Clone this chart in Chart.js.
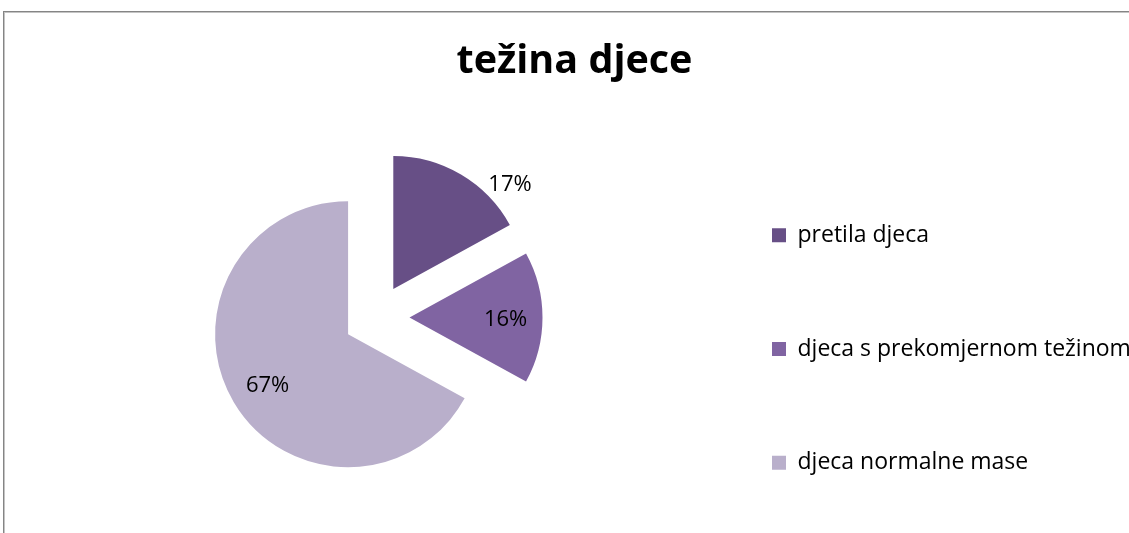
<!DOCTYPE html>
<html>
<head>
<meta charset="utf-8">
<script src="https://cdn.jsdelivr.net/npm/chart.js@4.4.1/dist/chart.umd.min.js"></script>
<style>
  html, body { margin: 0; padding: 0; background: #ffffff; overflow: hidden; width: 1129px; height: 533px; }
  #frame { position: absolute; left: 3px; top: 11px; width: 1200px; height: 600px;
           border-left: 1px solid #858585; border-top: 1px solid #858585;
           box-shadow: inset 1px 1px 0 #c4c4c4; }
  #c { position: absolute; left: 0; top: 0; }
</style>
</head>
<body>
<div id="frame"></div>
<canvas id="c"></canvas>
<script>
// ---- data ----
const chartTitle = 'težina djece';
const categories = ['pretila djeca', 'djeca s prekomjernom težinom', 'djeca normalne mase'];
const values = [17, 16, 67];
const sliceColors = ['#674F86', '#8064A2', '#B9AFCB'];

// ---- styling / layout constants ----
const FONT = '"Open Sans", "Noto Sans", sans-serif';
const legendFontSize = 23;
const labelFontSize = 22;
const titleFontSize = 39.5;
const legendBox = 14;
const explodeDist = 33;
const labelAngleShift = [17.7, 1.5, -1.9];   // degrees relative to slice bisector
const labelRadiusFactor = [1.175, 0.723, 0.718];

// legend geometry derived from measured text width
const mctx = document.createElement('canvas').getContext('2d');
mctx.font = legendFontSize + 'px ' + FONT;
const longest = Math.max(...categories.map(c => mctx.measureText(c).width));
const itemW = legendBox + legendFontSize / 2 + longest;
const legendPad = 386 - itemW;
const legendRight = 782 + itemW;
const canvasW = Math.ceil(legendRight);
const canvasH = 565;
const padLeft = 1149 - legendRight;
const padRight = canvasW - legendRight;
const itemStep = 113.75;

const canvas = document.getElementById('c');
canvas.width = canvasW; canvas.height = canvasH;
canvas.style.width = canvasW + 'px'; canvas.style.height = canvasH + 'px';

const explodePlugin = {
  id: 'explodePie',
  beforeDatasetDraw(chart, args) {
    const ctx = chart.ctx;
    args.meta.data.forEach((arc) => {
      const mid = (arc.startAngle + arc.endAngle) / 2;
      ctx.save();
      ctx.translate(Math.cos(mid) * explodeDist, Math.sin(mid) * explodeDist);
      arc.draw(ctx);
      ctx.restore();
    });
    return false;
  }
};

const pctLabelPlugin = {
  id: 'pctLabels',
  afterDatasetsDraw(chart) {
    const ctx = chart.ctx;
    const meta = chart.getDatasetMeta(0);
    const ds = chart.data.datasets[0].data;
    const total = ds.reduce((a, b) => a + b, 0);
    ctx.save();
    ctx.font = labelFontSize + 'px ' + FONT;
    ctx.fillStyle = '#000000';
    ctx.textAlign = 'center';
    ctx.textBaseline = 'middle';
    meta.data.forEach((arc, i) => {
      const mid = (arc.startAngle + arc.endAngle) / 2;
      const cx = arc.x + Math.cos(mid) * explodeDist;
      const cy = arc.y + Math.sin(mid) * explodeDist;
      const a = mid + labelAngleShift[i] * Math.PI / 180;
      const r = arc.outerRadius * labelRadiusFactor[i];
      const txt = Math.round(ds[i] / total * 100) + '%';
      ctx.fillText(txt, cx + Math.cos(a) * r, cy + Math.sin(a) * r);
    });
    ctx.restore();
  }
};

new Chart(canvas, {
  type: 'pie',
  data: {
    labels: categories.map(c => [c]),
    datasets: [{
      data: values,
      backgroundColor: sliceColors,
      borderWidth: 0
    }]
  },
  options: {
    responsive: false,
    devicePixelRatio: 1,
    animation: false,
    events: [],
    radius: 133,
    layout: { padding: { left: padLeft, right: padRight, top: 0, bottom: 0 } },
    plugins: {
      title: {
        display: true,
        text: chartTitle,
        color: '#000000',
        font: { family: FONT, size: titleFontSize, weight: 'bold', lineHeight: 16 / titleFontSize },
        padding: { top: 54, bottom: 0 }
      },
      legend: {
        display: true,
        position: 'right',
        align: 'end',
        labels: {
          boxWidth: legendBox,
          boxHeight: legendBox,
          padding: legendPad,
          color: '#000000',
          font: { family: FONT, size: legendFontSize, lineHeight: (itemStep - legendPad) + 'px' }
        }
      },
      tooltip: { enabled: false }
    }
  },
  plugins: [explodePlugin, pctLabelPlugin]
});
</script>
</body>
</html>
